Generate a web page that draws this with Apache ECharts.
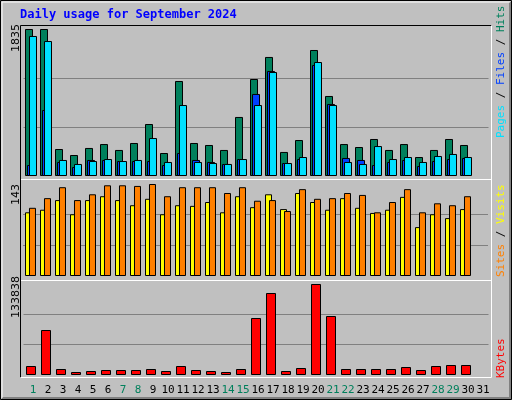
<!DOCTYPE html>
<html><head><meta charset="utf-8">
<script src="https://cdn.jsdelivr.net/npm/echarts@6/dist/echarts.min.js"></script>
<style>html,body{margin:0;padding:0;background:#c0c0c0}#c{width:512px;height:400px}</style>
</head><body><div id="c"></div>
<script>
const days = Array.from({length:31},(_,i)=>String(i+1));
const weekendDays = ['1','7','8','14','15','21','22','28','29'];
const hits  = [1835,1835,337,262,350,399,325,412,649,287,1186,412,387,325,737,1211,1486,300,449,1573,999,399,362,462,325,399,237,325,462,387,'-'];
const files = [137,824,175,112,200,200,187,187,187,137,287,200,175,150,212,1024,1311,162,212,1386,899,225,200,137,175,200,125,187,212,225,'-'];
const pages = [1748,1685,200,150,187,212,187,200,474,175,886,175,162,150,212,886,1298,162,237,1423,886,175,150,374,212,237,175,250,275,237,'-'];
const sites  = [99,103,118,96,118,124,118,110,120,96,110,109,115,99,124,107,127,104,129,115,103,121,106,98,103,123,76,96,90,104,'-'];
const visits = [106,121,138,118,127,141,141,140,143,124,138,138,138,129,138,117,118,101,135,120,121,129,126,99,115,135,99,113,110,124,'-'];
const kbytes = [13236,66174,8823,4412,5882,7353,7353,7353,8823,5882,13236,7353,5882,4412,8823,83822,120587,5882,10294,133838,86764,8823,8823,8823,8823,11765,7353,13236,14706,14706,'-'];
const maxHits = 1835, maxVisits = 143, maxKB = 133838;

const C = {hits:'#00805c', files:'#0040ff', pages:'#00e0ff', sites:'#ffff00', visits:'#ff8000', kb:'#ff0000'};
const grid3 = ['rgba(0,0,0,0)','#808080','#808080','rgba(0,0,0,0)'];
function yA(gi,max){return {gridIndex:gi,min:0,max:max,interval:max/3,axisLine:{show:false},axisTick:{show:false},axisLabel:{show:false},splitLine:{lineStyle:{color:grid3,width:1}}};}
function xA(gi,show){return {type:'category',gridIndex:gi,data:days,axisLine:{show:false},axisTick:{show:false},
  axisLabel:{show:show,interval:0,margin:10,fontFamily:'DejaVu Sans Mono',fontSize:11,
   color:(v)=>weekendDays.includes(v)?'#00805c':'#000'}};}
const bs = {borderColor:'#000',borderWidth:1};
const chart = echarts.init(document.getElementById('c'),null,{renderer:'canvas'});
function vtext(x,yBottom,parts){
  return {type:'text',x:x,y:yBottom,rotation:Math.PI/2,style:{text:parts.map(p=>'{'+p[1]+'|'+p[0]+'}').join(''),
    fontFamily:'DejaVu Sans Mono',fontSize:11,verticalAlign:'middle',align:'left',
    rich:Object.fromEntries(parts.map(p=>[p[1],{fill:p[2],fontFamily:'DejaVu Sans Mono',fontSize:11}]))}};
}
chart.setOption({
  backgroundColor:'#c0c0c0',animation:false,
  grid:[
    {left:23.5,width:465,top:29,height:147},
    {left:23,width:465,top:184,height:92},
    {left:23.5,width:465,top:284,height:91},
    {left:25.5,width:465,top:284,height:91}
  ],
  xAxis:[xA(0,false),xA(1,false),xA(2,false),xA(3,true)],
  yAxis:[yA(0,maxHits),yA(1,maxVisits),yA(2,maxKB),{gridIndex:3,show:false,min:0,max:1}],
  series:[
    {type:'bar',xAxisIndex:0,yAxisIndex:0,data:hits,barWidth:8,barGap:'-75%',itemStyle:Object.assign({color:C.hits},bs)},
    {type:'bar',xAxisIndex:0,yAxisIndex:0,data:files,barWidth:8,barGap:'-75%',itemStyle:Object.assign({color:C.files},bs)},
    {type:'bar',xAxisIndex:0,yAxisIndex:0,data:pages,barWidth:8,barGap:'-75%',itemStyle:Object.assign({color:C.pages},bs)},
    {type:'bar',xAxisIndex:1,yAxisIndex:1,data:sites,barWidth:7,barGap:'-43%',itemStyle:Object.assign({color:C.sites},bs)},
    {type:'bar',xAxisIndex:1,yAxisIndex:1,data:visits,barWidth:7,barGap:'-43%',itemStyle:Object.assign({color:C.visits},bs)},
    {type:'bar',xAxisIndex:2,yAxisIndex:2,data:kbytes,barWidth:10,itemStyle:Object.assign({color:C.kb},bs)}
  ],
  graphic:[
    {type:'rect',shape:{x:0.5,y:0.5,width:511,height:399},style:{fill:'none',stroke:'#000',lineWidth:1},z:100},
    {type:'polyline',shape:{points:[[2,398],[510,398],[510,2]]},style:{stroke:'#808080',lineWidth:2,fill:'none'},z:100},
    {type:'polyline',shape:{points:[[2,398],[2,2],[510,2]]},style:{stroke:'#ffffff',lineWidth:1,fill:'none'},z:100},
    {type:'polyline',shape:{points:[[20.5,377.5],[20.5,25.5],[491.5,25.5]]},style:{stroke:'#000',lineWidth:1,fill:'none'},z:100},
    {type:'polyline',shape:{points:[[20.5,377.5],[491.5,377.5],[491.5,25.5]]},style:{stroke:'#fff',lineWidth:1,fill:'none'},z:100},
    {type:'line',shape:{x1:21,y1:179.5,x2:491,y2:179.5},style:{stroke:'#fff',lineWidth:1},z:100},
    {type:'line',shape:{x1:21,y1:280.5,x2:491,y2:280.5},style:{stroke:'#fff',lineWidth:1},z:100},
    {type:'text',x:20,y:9,style:{text:'Daily usage for September 2024',fill:'#0000ff',fontFamily:'DejaVu Sans Mono',fontWeight:'bold',fontSize:12}},
    {type:'text',x:16,y:52,rotation:Math.PI/2,style:{text:String(maxHits),fill:'#000',fontFamily:'DejaVu Sans',fontSize:11,align:'left',verticalAlign:'middle'}},
    {type:'text',x:16,y:205,rotation:Math.PI/2,style:{text:String(maxVisits),fill:'#000',fontFamily:'DejaVu Sans',fontSize:11,align:'left',verticalAlign:'middle'}},
    {type:'text',x:16,y:318,rotation:Math.PI/2,style:{text:String(maxKB),fill:'#000',fontFamily:'DejaVu Sans',fontSize:11,align:'left',verticalAlign:'middle'}},
    vtext(501,138,[['Pages','p',C.pages],[' / ','s1','#000'],['Files','f',C.files],[' / ','s2','#000'],['Hits','h',C.hits]]),
    vtext(501,277,[['Sites','a',C.visits],[' / ','s','#000'],['Visits','b',C.sites]]),
    vtext(501,378,[['KBytes','k',C.kb]])
  ]
});
</script></body></html>
